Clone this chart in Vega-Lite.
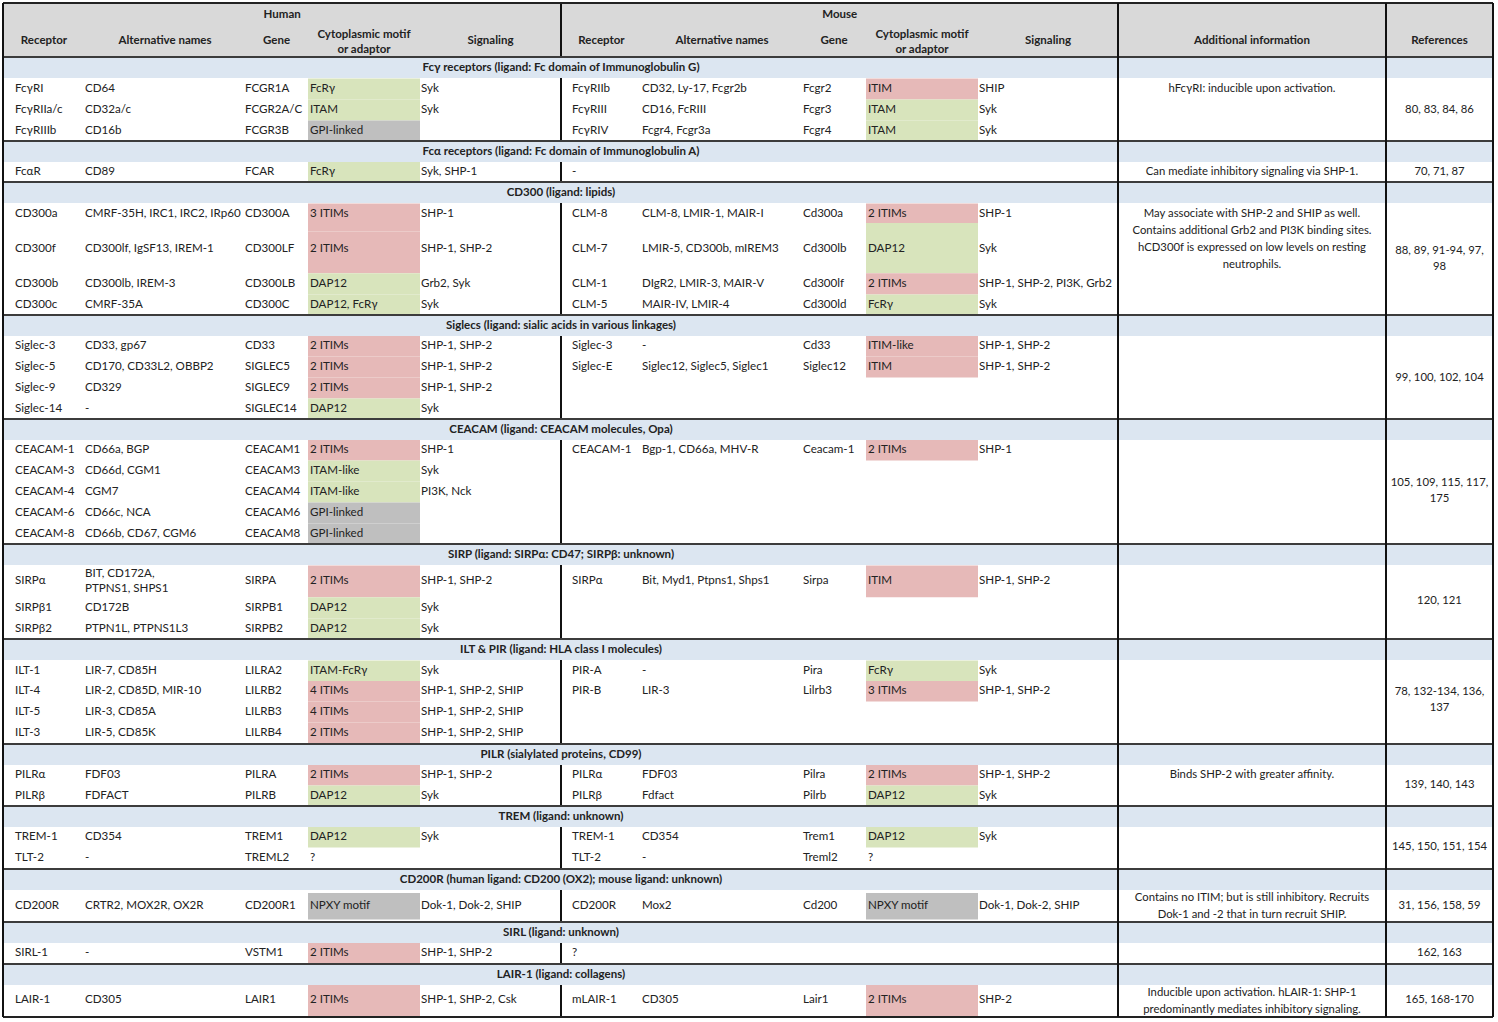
{
  "$schema": "https://vega.github.io/schema/vega-lite/v6.json",
  "width": 1498,
  "height": 1022,
  "padding": 0,
  "autosize": "none",
  "background": "white",
  "config": {
    "view": {"stroke": null},
    "axis": {"disable": true},
    "legend": {"disable": true},
    "text": {"font": "Lato", "fontSize": 11.6, "fill": "#222222", "baseline": "middle", "lineBreak": "\n", "lineHeight": 15}
  },
  "datasets": {
    "rows": [
      {"row": 3, "hRec": "FcγRI", "hAlt": "CD64", "hGene": "FCGR1A", "hMot": "FcRγ", "hSig": "Syk", "mRec": "FcγRIIb", "mAlt": "CD32, Ly-17, Fcgr2b", "mGene": "Fcgr2", "mMot": "ITIM", "mSig": "SHIP"},
      {"row": 4, "hRec": "FcγRIIa/c", "hAlt": "CD32a/c", "hGene": "FCGR2A/C", "hMot": "ITAM", "hSig": "Syk", "mRec": "FcγRIII", "mAlt": "CD16, FcRIII", "mGene": "Fcgr3", "mMot": "ITAM", "mSig": "Syk"},
      {"row": 5, "hRec": "FcγRIIIb", "hAlt": "CD16b", "hGene": "FCGR3B", "hMot": "GPI-linked", "mRec": "FcγRIV", "mAlt": "Fcgr4, Fcgr3a", "mGene": "Fcgr4", "mMot": "ITAM", "mSig": "Syk"},
      {"row": 7, "hRec": "FcαR", "hAlt": "CD89", "hGene": "FCAR", "hMot": "FcRγ", "hSig": "Syk, SHP-1", "mRec": "-"},
      {"row": 9, "hRec": "CD300a", "hAlt": "CMRF-35H, IRC1, IRC2, IRp60", "hGene": "CD300A", "hMot": "3 ITIMs", "hSig": "SHP-1", "mRec": "CLM-8", "mAlt": "CLM-8, LMIR-1, MAIR-I", "mGene": "Cd300a", "mMot": "2 ITIMs", "mSig": "SHP-1"},
      {"row": 10, "hRec": "CD300f", "hAlt": "CD300lf, IgSF13, IREM-1", "hGene": "CD300LF", "hMot": "2 ITIMs", "hSig": "SHP-1, SHP-2", "mRec": "CLM-7", "mAlt": "LMIR-5, CD300b, mIREM3", "mGene": "Cd300lb", "mMot": "DAP12", "mSig": "Syk"},
      {"row": 11, "hRec": "CD300b", "hAlt": "CD300lb, IREM-3", "hGene": "CD300LB", "hMot": "DAP12", "hSig": "Grb2, Syk", "mRec": "CLM-1", "mAlt": "DIgR2, LMIR-3, MAIR-V", "mGene": "Cd300lf", "mMot": "2 ITIMs", "mSig": "SHP-1, SHP-2, PI3K, Grb2"},
      {"row": 12, "hRec": "CD300c", "hAlt": "CMRF-35A", "hGene": "CD300C", "hMot": "DAP12, FcRγ", "hSig": "Syk", "mRec": "CLM-5", "mAlt": "MAIR-IV, LMIR-4", "mGene": "Cd300ld", "mMot": "FcRγ", "mSig": "Syk"},
      {"row": 14, "hRec": "Siglec-3", "hAlt": "CD33, gp67", "hGene": "CD33", "hMot": "2 ITIMs", "hSig": "SHP-1, SHP-2", "mRec": "Siglec-3", "mAlt": "-", "mGene": "Cd33", "mMot": "ITIM-like", "mSig": "SHP-1, SHP-2"},
      {"row": 15, "hRec": "Siglec-5", "hAlt": "CD170, CD33L2, OBBP2", "hGene": "SIGLEC5", "hMot": "2 ITIMs", "hSig": "SHP-1, SHP-2", "mRec": "Siglec-E", "mAlt": "Siglec12, Siglec5, Siglec1", "mGene": "Siglec12", "mMot": "ITIM", "mSig": "SHP-1, SHP-2"},
      {"row": 16, "hRec": "Siglec-9", "hAlt": "CD329", "hGene": "SIGLEC9", "hMot": "2 ITIMs", "hSig": "SHP-1, SHP-2"},
      {"row": 17, "hRec": "Siglec-14", "hAlt": "-", "hGene": "SIGLEC14", "hMot": "DAP12", "hSig": "Syk"},
      {"row": 19, "hRec": "CEACAM-1", "hAlt": "CD66a, BGP", "hGene": "CEACAM1", "hMot": "2 ITIMs", "hSig": "SHP-1", "mRec": "CEACAM-1", "mAlt": "Bgp-1, CD66a, MHV-R", "mGene": "Ceacam-1", "mMot": "2 ITIMs", "mSig": "SHP-1"},
      {"row": 20, "hRec": "CEACAM-3", "hAlt": "CD66d, CGM1", "hGene": "CEACAM3", "hMot": "ITAM-like", "hSig": "Syk"},
      {"row": 21, "hRec": "CEACAM-4", "hAlt": "CGM7", "hGene": "CEACAM4", "hMot": "ITAM-like", "hSig": "PI3K, Nck"},
      {"row": 22, "hRec": "CEACAM-6", "hAlt": "CD66c, NCA", "hGene": "CEACAM6", "hMot": "GPI-linked"},
      {"row": 23, "hRec": "CEACAM-8", "hAlt": "CD66b, CD67, CGM6", "hGene": "CEACAM8", "hMot": "GPI-linked"},
      {"row": 25, "hRec": "SIRPα", "hAltW": "BIT, CD172A,\nPTPNS1, SHPS1", "hGene": "SIRPA", "hMot": "2 ITIMs", "hSig": "SHP-1, SHP-2", "mRec": "SIRPα", "mAlt": "Bit, Myd1, Ptpns1, Shps1", "mGene": "Sirpa", "mMot": "ITIM", "mSig": "SHP-1, SHP-2"},
      {"row": 26, "hRec": "SIRPβ1", "hAlt": "CD172B", "hGene": "SIRPB1", "hMot": "DAP12", "hSig": "Syk"},
      {"row": 27, "hRec": "SIRPβ2", "hAlt": "PTPN1L, PTPNS1L3", "hGene": "SIRPB2", "hMot": "DAP12", "hSig": "Syk"},
      {"row": 29, "hRec": "ILT-1", "hAlt": "LIR-7, CD85H", "hGene": "LILRA2", "hMot": "ITAM-FcRγ", "hSig": "Syk", "mRec": "PIR-A", "mAlt": "-", "mGene": "Pira", "mMot": "FcRγ", "mSig": "Syk"},
      {"row": 30, "hRec": "ILT-4", "hAlt": "LIR-2, CD85D, MIR-10", "hGene": "LILRB2", "hMot": "4 ITIMs", "hSig": "SHP-1, SHP-2, SHIP", "mRec": "PIR-B", "mAlt": "LIR-3", "mGene": "Lilrb3", "mMot": "3 ITIMs", "mSig": "SHP-1, SHP-2"},
      {"row": 31, "hRec": "ILT-5", "hAlt": "LIR-3, CD85A", "hGene": "LILRB3", "hMot": "4 ITIMs", "hSig": "SHP-1, SHP-2, SHIP"},
      {"row": 32, "hRec": "ILT-3", "hAlt": "LIR-5, CD85K", "hGene": "LILRB4", "hMot": "2 ITIMs", "hSig": "SHP-1, SHP-2, SHIP"},
      {"row": 34, "hRec": "PILRα", "hAlt": "FDF03", "hGene": "PILRA", "hMot": "2 ITIMs", "hSig": "SHP-1, SHP-2", "mRec": "PILRα", "mAlt": "FDF03", "mGene": "Pilra", "mMot": "2 ITIMs", "mSig": "SHP-1, SHP-2"},
      {"row": 35, "hRec": "PILRβ", "hAlt": "FDFACT", "hGene": "PILRB", "hMot": "DAP12", "hSig": "Syk", "mRec": "PILRβ", "mAlt": "Fdfact", "mGene": "Pilrb", "mMot": "DAP12", "mSig": "Syk"},
      {"row": 37, "hRec": "TREM-1", "hAlt": "CD354", "hGene": "TREM1", "hMot": "DAP12", "hSig": "Syk", "mRec": "TREM-1", "mAlt": "CD354", "mGene": "Trem1", "mMot": "DAP12", "mSig": "Syk"},
      {"row": 38, "hRec": "TLT-2", "hAlt": "-", "hGene": "TREML2", "hMot": "?", "mRec": "TLT-2", "mAlt": "-", "mGene": "Treml2", "mMot": "?"},
      {"row": 40, "hRec": "CD200R", "hAlt": "CRTR2, MOX2R, OX2R", "hGene": "CD200R1", "hMot": "NPXY motif", "hSig": "Dok-1, Dok-2, SHIP", "mRec": "CD200R", "mAlt": "Mox2", "mGene": "Cd200", "mMot": "NPXY motif", "mSig": "Dok-1, Dok-2, SHIP"},
      {"row": 42, "hRec": "SIRL-1", "hAlt": "-", "hGene": "VSTM1", "hMot": "2 ITIMs", "hSig": "SHP-1, SHP-2", "mRec": "?"},
      {"row": 44, "hRec": "LAIR-1", "hAlt": "CD305", "hGene": "LAIR1", "hMot": "2 ITIMs", "hSig": "SHP-1, SHP-2, Csk", "mRec": "mLAIR-1", "mAlt": "CD305", "mGene": "Lair1", "mMot": "2 ITIMs", "mSig": "SHP-2"}
    ],
    "notes": [
      {"row": 3, "info": "hFcγRI: inducible upon activation."},
      {"row": 4, "refs": "80, 83, 84, 86"},
      {"row": 7, "info": "Can mediate inhibitory signaling via SHP-1.", "refs": "70, 71, 87"},
      {"row": 9, "info": "May associate with SHP-2 and SHIP as well.\nContains additional Grb2 and PI3K binding sites.\nhCD300f is expressed on low levels on resting\nneutrophils."},
      {"row": 10.06, "refs": "88, 89, 91-94, 97,\n98"},
      {"row": 15.52, "refs": "99, 100, 102, 104"},
      {"row": 20.57, "refs": "105, 109, 115, 117,\n175"},
      {"row": 25.74, "refs": "120, 121"},
      {"row": 30.05, "refs": "78, 132-134, 136,\n137"},
      {"row": 34, "info": "Binds SHP-2 with greater affinity."},
      {"row": 34.48, "refs": "139, 140, 143"},
      {"row": 37.48, "refs": "145, 150, 151, 154"},
      {"row": 39.69, "info": "Contains no ITIM; but is still inhibitory. Recruits\nDok-1 and -2 that in turn recruit SHIP."},
      {"row": 40, "refs": "31, 156, 158, 59"},
      {"row": 42, "refs": "162, 163"},
      {"row": 43.72, "info": "Inducible upon activation. hLAIR-1: SHP-1\npredominantly mediates inhibitory signaling."},
      {"row": 44, "refs": "165, 168-170"}
    ],
    "sections": [
      {"row": 2, "title": "Fcγ receptors (ligand: Fc domain of Immunoglobulin G)"},
      {"row": 6, "title": "Fcα receptors  (ligand: Fc domain of Immunoglobulin A)"},
      {"row": 8, "title": "CD300 (ligand: lipids)"},
      {"row": 13, "title": "Siglecs (ligand: sialic acids in various linkages)"},
      {"row": 18, "title": "CEACAM (ligand: CEACAM molecules, Opa)"},
      {"row": 24, "title": "SIRP (ligand: SIRPα: CD47; SIRPβ: unknown)"},
      {"row": 28, "title": "ILT & PIR (ligand: HLA class I molecules)"},
      {"row": 33, "title": "PILR (sialylated proteins, CD99)"},
      {"row": 36, "title": "TREM (ligand: unknown)"},
      {"row": 39, "title": "CD200R (human ligand: CD200 (OX2); mouse ligand: unknown)"},
      {"row": 41, "title": "SIRL (ligand: unknown)"},
      {"row": 43, "title": "LAIR-1 (ligand: collagens)"}
    ],
    "headers": [
      {"col": 2.59, "row": 0, "text": "Human"},
      {"col": 7.59, "row": 0, "text": "Mouse"},
      {"col": 0.5, "row": 1, "text": "Receptor"},
      {"col": 1.5, "row": 1, "text": "Alternative names"},
      {"col": 2.5, "row": 1, "text": "Gene"},
      {"col": 3.5, "row": 0.76, "text": "Cytoplasmic motif\nor adaptor"},
      {"col": 4.5, "row": 1, "text": "Signaling"},
      {"col": 5.5, "row": 1, "text": "Receptor"},
      {"col": 6.5, "row": 1, "text": "Alternative names"},
      {"col": 7.5, "row": 1, "text": "Gene"},
      {"col": 8.5, "row": 0.76, "text": "Cytoplasmic motif\nor adaptor"},
      {"col": 9.5, "row": 1, "text": "Signaling"},
      {"col": 10.5, "row": 1, "text": "Additional information"},
      {"col": 11.5, "row": 1, "text": "References"}
    ],
    "motifs": [
      {"side": "h", "top": 2.5, "bot": 3.5, "kind": "activating"},
      {"side": "h", "top": 3.5, "bot": 4.5, "kind": "activating"},
      {"side": "h", "top": 4.5, "bot": 5.5, "kind": "other"},
      {"side": "h", "top": 6.5, "bot": 7.5, "kind": "activating"},
      {"side": "h", "top": 8.5, "bot": 9.5, "kind": "inhibitory"},
      {"side": "h", "top": 9.5, "bot": 10.69, "kind": "inhibitory"},
      {"side": "h", "top": 10.69, "bot": 11.5, "kind": "activating"},
      {"side": "h", "top": 11.5, "bot": 12.5, "kind": "activating"},
      {"side": "h", "top": 13.5, "bot": 14.5, "kind": "inhibitory"},
      {"side": "h", "top": 14.5, "bot": 15.5, "kind": "inhibitory"},
      {"side": "h", "top": 15.5, "bot": 16.5, "kind": "inhibitory"},
      {"side": "h", "top": 16.5, "bot": 17.5, "kind": "activating"},
      {"side": "h", "top": 18.5, "bot": 19.5, "kind": "inhibitory"},
      {"side": "h", "top": 19.5, "bot": 20.5, "kind": "activating"},
      {"side": "h", "top": 20.5, "bot": 21.5, "kind": "activating"},
      {"side": "h", "top": 21.5, "bot": 22.5, "kind": "other"},
      {"side": "h", "top": 22.5, "bot": 23.5, "kind": "other"},
      {"side": "h", "top": 24.4, "bot": 25.6, "kind": "inhibitory"},
      {"side": "h", "top": 25.6, "bot": 26.5, "kind": "activating"},
      {"side": "h", "top": 26.5, "bot": 27.5, "kind": "activating"},
      {"side": "h", "top": 28.5, "bot": 29.5, "kind": "activating"},
      {"side": "h", "top": 29.5, "bot": 30.5, "kind": "inhibitory"},
      {"side": "h", "top": 30.5, "bot": 31.5, "kind": "inhibitory"},
      {"side": "h", "top": 31.5, "bot": 32.5, "kind": "inhibitory"},
      {"side": "h", "top": 33.5, "bot": 34.5, "kind": "inhibitory"},
      {"side": "h", "top": 34.5, "bot": 35.5, "kind": "activating"},
      {"side": "h", "top": 36.5, "bot": 37.5, "kind": "activating"},
      {"side": "h", "top": 39.5, "bot": 40.5, "kind": "other"},
      {"side": "h", "top": 41.5, "bot": 42.5, "kind": "inhibitory"},
      {"side": "h", "top": 43.4, "bot": 44.6, "kind": "inhibitory"},
      {"side": "m", "top": 2.5, "bot": 3.5, "kind": "inhibitory"},
      {"side": "m", "top": 3.5, "bot": 4.5, "kind": "activating"},
      {"side": "m", "top": 4.5, "bot": 5.5, "kind": "activating"},
      {"side": "m", "top": 8.5, "bot": 9.26, "kind": "inhibitory"},
      {"side": "m", "top": 9.26, "bot": 10.69, "kind": "activating"},
      {"side": "m", "top": 10.69, "bot": 11.5, "kind": "inhibitory"},
      {"side": "m", "top": 11.5, "bot": 12.5, "kind": "activating"},
      {"side": "m", "top": 13.5, "bot": 14.5, "kind": "inhibitory"},
      {"side": "m", "top": 14.5, "bot": 15.5, "kind": "inhibitory"},
      {"side": "m", "top": 18.5, "bot": 19.5, "kind": "inhibitory"},
      {"side": "m", "top": 24.4, "bot": 25.6, "kind": "inhibitory"},
      {"side": "m", "top": 28.5, "bot": 29.5, "kind": "activating"},
      {"side": "m", "top": 29.5, "bot": 30.5, "kind": "inhibitory"},
      {"side": "m", "top": 33.5, "bot": 34.5, "kind": "inhibitory"},
      {"side": "m", "top": 34.5, "bot": 35.5, "kind": "activating"},
      {"side": "m", "top": 36.5, "bot": 37.5, "kind": "activating"},
      {"side": "m", "top": 39.5, "bot": 40.5, "kind": "other"},
      {"side": "m", "top": 43.4, "bot": 44.6, "kind": "inhibitory"}
    ],
    "borders": [{"c": 0}, {"c": 10}, {"c": 11}, {"c": 12}],
    "one": [{"k": 1}]
  },
  "layer": [
    {
      "data": {"name": "one"},
      "mark": {"type": "rect", "color": "#d9d9d9", "yOffset": -12, "y2Offset": -11},
      "encoding": {
        "x": {"datum": 0, "type": "quantitative", "scale": {"type": "linear", "domain": [0,1,2,3,4,5,6,7,8,9,10,11,12], "range": [3,85,245,308,420,561,642,802,866,978,1118,1386,1493], "zero": false, "nice": false}},
        "x2": {"datum": 12},
        "y": {"datum": 0, "type": "quantitative", "scale": {"type": "linear", "domain": [0,1,2,3,4,5,6,7,8,9,10,11,12,13,14,15,16,17,18,19,20,21,22,23,24,25,26,27,28,29,30,31,32,33,34,35,36,37,38,39,40,41,42,43,44,45], "range": [15,41,68,89,110,131,152,172,193,214,249,284,305,326,346,367,388,409,430,450,471,492,513,534,555,581,608,629,650,671,691,712,733,755,775,796,817,837,858,880,906,933,953,975,1000,1028], "zero": false, "nice": false}},
        "y2": {"datum": 2}
      }
    },
    {
      "data": {"name": "one"},
      "mark": {"type": "rule", "color": "#111111", "strokeWidth": 2, "yOffset": -12, "y2Offset": -11},
      "encoding": {
        "x": {"datum": 5, "type": "quantitative"},
        "y": {"datum": 0, "type": "quantitative"},
        "y2": {"datum": 45}
      }
    },
    {
      "data": {"name": "sections"},
      "mark": {"type": "rule", "color": "#dce6f1", "strokeWidth": 20, "strokeCap": "butt"},
      "encoding": {
        "x": {"datum": 0, "type": "quantitative"},
        "x2": {"datum": 12},
        "y": {"field": "row", "type": "quantitative"}
      }
    },
    {
      "data": {"name": "motifs"},
      "transform": [{"filter": "datum.side === 'h'"}],
      "mark": {"type": "rect"},
      "encoding": {
        "x": {"datum": 3, "type": "quantitative"},
        "x2": {"datum": 4},
        "y": {"field": "top", "type": "quantitative"},
        "y2": {"field": "bot"},
        "color": {"field": "kind", "type": "nominal", "scale": {"domain": ["inhibitory", "activating", "other"], "range": ["#e6b9b8", "#d8e4bc", "#bfbfbf"]}, "legend": null}
      }
    },
    {
      "data": {"name": "motifs"},
      "transform": [{"filter": "datum.side === 'm'"}],
      "mark": {"type": "rect"},
      "encoding": {
        "x": {"datum": 8, "type": "quantitative"},
        "x2": {"datum": 9},
        "y": {"field": "top", "type": "quantitative"},
        "y2": {"field": "bot"},
        "color": {"field": "kind", "type": "nominal", "legend": null}
      }
    },
    {
      "data": {"name": "sections"},
      "mark": {"type": "rule", "color": "#3c3c3c", "strokeWidth": 2, "yOffset": -11},
      "encoding": {
        "x": {"datum": 0, "type": "quantitative"},
        "x2": {"datum": 12},
        "y": {"field": "row", "type": "quantitative"}
      }
    },
    {
      "data": {"name": "one"},
      "mark": {"type": "rule", "color": "#222222", "strokeWidth": 2, "yOffset": -12},
      "encoding": {
        "x": {"datum": 0, "type": "quantitative"},
        "x2": {"datum": 12},
        "y": {"datum": 0, "type": "quantitative"}
      }
    },
    {
      "data": {"name": "one"},
      "mark": {"type": "rule", "color": "#222222", "strokeWidth": 2, "yOffset": -11},
      "encoding": {
        "x": {"datum": 0, "type": "quantitative"},
        "x2": {"datum": 12},
        "y": {"datum": 45, "type": "quantitative"}
      }
    },
    {
      "data": {"name": "borders"},
      "mark": {"type": "rule", "color": "#111111", "strokeWidth": 2, "yOffset": -12, "y2Offset": -11},
      "encoding": {
        "x": {"field": "c", "type": "quantitative"},
        "y": {"datum": 0, "type": "quantitative"},
        "y2": {"datum": 45}
      }
    },
    {
      "data": {"name": "headers"},
      "mark": {"type": "text", "align": "center", "fontWeight": "bold", "fontSize": 11.5},
      "encoding": {
        "x": {"field": "col", "type": "quantitative"},
        "y": {"field": "row", "type": "quantitative"},
        "text": {"field": "text", "type": "nominal"}
      }
    },
    {
      "data": {"name": "sections"},
      "mark": {"type": "text", "align": "center", "fontWeight": "bold", "fontSize": 11.5},
      "encoding": {
        "x": {"datum": 5, "type": "quantitative"},
        "y": {"field": "row", "type": "quantitative"},
        "text": {"field": "title", "type": "nominal"}
      }
    },
    {
      "data": {"name": "rows"},
      "layer": [
        {"transform": [{"filter": "isValid(datum.hRec)"}], "mark": {"type": "text", "align": "left", "dx": 12},
         "encoding": {"x": {"datum": 0, "type": "quantitative"}, "y": {"field": "row", "type": "quantitative"}, "text": {"field": "hRec", "type": "nominal"}}},
        {"transform": [{"filter": "isValid(datum.hAlt)"}], "mark": {"type": "text", "align": "left", "dx": 0},
         "encoding": {"x": {"datum": 1, "type": "quantitative"}, "y": {"field": "row", "type": "quantitative"}, "text": {"field": "hAlt", "type": "nominal"}}},
        {"transform": [{"filter": "isValid(datum.hAltW)"}], "mark": {"type": "text", "align": "left", "dx": 0, "dy": -7.5},
         "encoding": {"x": {"datum": 1, "type": "quantitative"}, "y": {"field": "row", "type": "quantitative"}, "text": {"field": "hAltW", "type": "nominal"}}},
        {"transform": [{"filter": "isValid(datum.hGene)"}], "mark": {"type": "text", "align": "left", "dx": 0},
         "encoding": {"x": {"datum": 2, "type": "quantitative"}, "y": {"field": "row", "type": "quantitative"}, "text": {"field": "hGene", "type": "nominal"}}},
        {"transform": [{"filter": "isValid(datum.hMot)"}], "mark": {"type": "text", "align": "left", "dx": 2},
         "encoding": {"x": {"datum": 3, "type": "quantitative"}, "y": {"field": "row", "type": "quantitative"}, "text": {"field": "hMot", "type": "nominal"}}},
        {"transform": [{"filter": "isValid(datum.hSig)"}], "mark": {"type": "text", "align": "left", "dx": 1},
         "encoding": {"x": {"datum": 4, "type": "quantitative"}, "y": {"field": "row", "type": "quantitative"}, "text": {"field": "hSig", "type": "nominal"}}},
        {"transform": [{"filter": "isValid(datum.mRec)"}], "mark": {"type": "text", "align": "left", "dx": 11},
         "encoding": {"x": {"datum": 5, "type": "quantitative"}, "y": {"field": "row", "type": "quantitative"}, "text": {"field": "mRec", "type": "nominal"}}},
        {"transform": [{"filter": "isValid(datum.mAlt)"}], "mark": {"type": "text", "align": "left", "dx": 0},
         "encoding": {"x": {"datum": 6, "type": "quantitative"}, "y": {"field": "row", "type": "quantitative"}, "text": {"field": "mAlt", "type": "nominal"}}},
        {"transform": [{"filter": "isValid(datum.mGene)"}], "mark": {"type": "text", "align": "left", "dx": 1},
         "encoding": {"x": {"datum": 7, "type": "quantitative"}, "y": {"field": "row", "type": "quantitative"}, "text": {"field": "mGene", "type": "nominal"}}},
        {"transform": [{"filter": "isValid(datum.mMot)"}], "mark": {"type": "text", "align": "left", "dx": 2},
         "encoding": {"x": {"datum": 8, "type": "quantitative"}, "y": {"field": "row", "type": "quantitative"}, "text": {"field": "mMot", "type": "nominal"}}},
        {"transform": [{"filter": "isValid(datum.mSig)"}], "mark": {"type": "text", "align": "left", "dx": 1},
         "encoding": {"x": {"datum": 9, "type": "quantitative"}, "y": {"field": "row", "type": "quantitative"}, "text": {"field": "mSig", "type": "nominal"}}}
      ]
    },
    {
      "data": {"name": "notes"},
      "layer": [
        {"transform": [{"filter": "isValid(datum.info)"}], "mark": {"type": "text", "align": "center", "fontSize": 11.3, "lineHeight": 17},
         "encoding": {"x": {"datum": 10.5, "type": "quantitative"}, "y": {"field": "row", "type": "quantitative"}, "text": {"field": "info", "type": "nominal"}}},
        {"transform": [{"filter": "isValid(datum.refs)"}], "mark": {"type": "text", "align": "center", "fontSize": 11.3, "lineHeight": 16},
         "encoding": {"x": {"datum": 11.5, "type": "quantitative"}, "y": {"field": "row", "type": "quantitative"}, "text": {"field": "refs", "type": "nominal"}}}
      ]
    }
  ]
}
